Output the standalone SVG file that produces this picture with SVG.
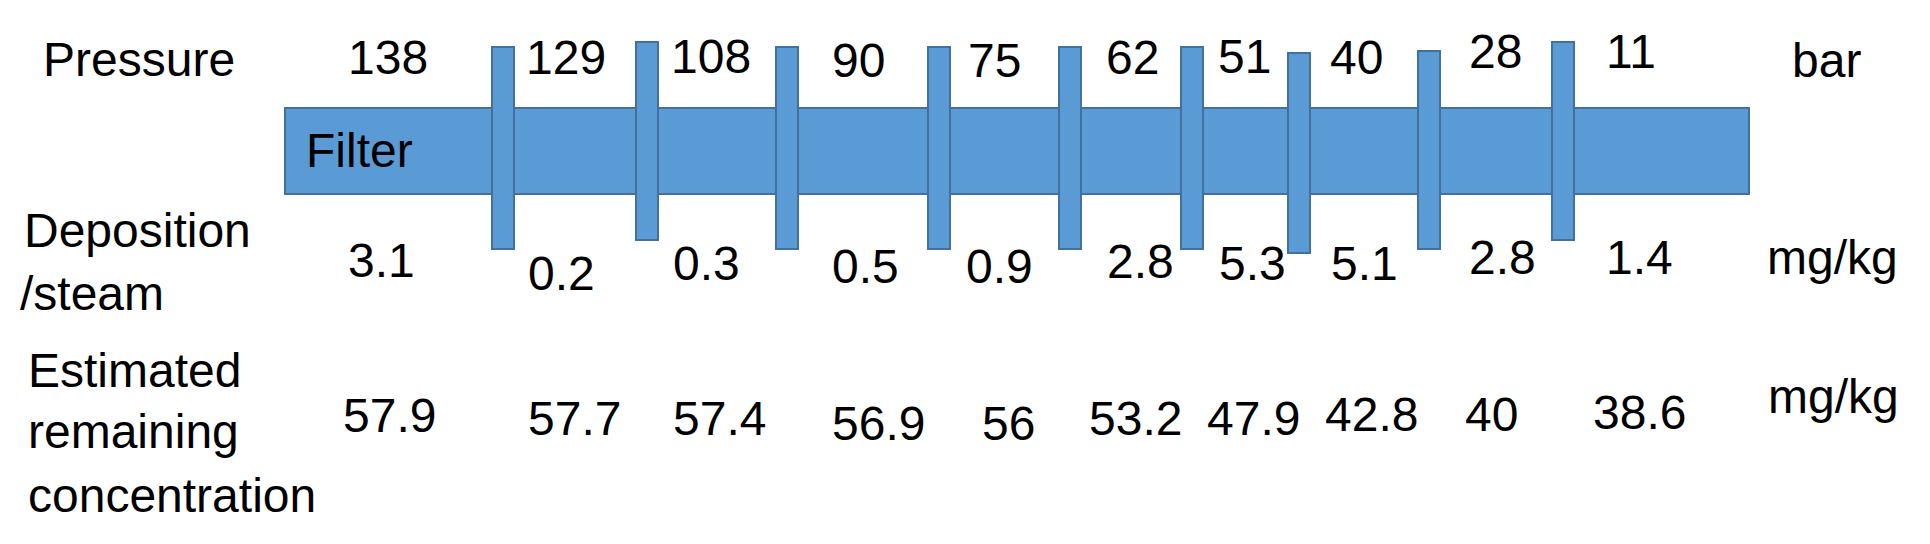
<svg xmlns="http://www.w3.org/2000/svg" width="1930" height="544" viewBox="0 0 1930 544">
<style>
.t{font-family:"Liberation Sans",Arial,sans-serif;font-size:48px;fill:#000}
.b{fill:#5B9BD5;stroke:#41719C;stroke-width:2}
</style>
<rect width="1930" height="544" fill="#fff"/>
<g id="filter">
<rect class="b" x="285" y="108" width="1464" height="86"/>
<text class="t" x="306" y="167">Filter</text>
</g>
<g id="plates">
<rect id="plate1" class="b" x="492" y="47" width="22" height="202"/>
<rect id="plate2" class="b" x="636" y="42" width="22" height="198"/>
<rect id="plate3" class="b" x="776" y="47" width="22" height="202"/>
<rect id="plate4" class="b" x="928" y="47" width="22" height="202"/>
<rect id="plate5" class="b" x="1059" y="47" width="22" height="202"/>
<rect id="plate6" class="b" x="1181" y="47" width="22" height="202"/>
<rect id="plate7" class="b" x="1288" y="53" width="22" height="200"/>
<rect id="plate8" class="b" x="1418" y="51" width="22" height="198"/>
<rect id="plate9" class="b" x="1552" y="42" width="22" height="198"/>
</g>
<g id="connectors"></g>
<g id="pressure">
<text class="t" x="43" y="76">Pressure</text>
<text class="t" x="348" y="74">138</text>
<text class="t" x="526" y="74">129</text>
<text class="t" x="671" y="73">108</text>
<text class="t" x="832" y="77">90</text>
<text class="t" x="968" y="77">75</text>
<text class="t" x="1106" y="74">62</text>
<text class="t" x="1218" y="73">51</text>
<text class="t" x="1330" y="74">40</text>
<text class="t" x="1469" y="68">28</text>
<text class="t" x="1606" y="68">11</text>
<text class="t" x="1792" y="77">bar</text>
</g>
<g id="deposition">
<text class="t" x="24" y="247">Deposition</text>
<text class="t" x="20" y="310">/steam</text>
<text class="t" x="348" y="277">3.1</text>
<text class="t" x="528" y="290">0.2</text>
<text class="t" x="673" y="280">0.3</text>
<text class="t" x="832" y="283">0.5</text>
<text class="t" x="966" y="283">0.9</text>
<text class="t" x="1107" y="278">2.8</text>
<text class="t" x="1219" y="280">5.3</text>
<text class="t" x="1331" y="280">5.1</text>
<text class="t" x="1469" y="274">2.8</text>
<text class="t" x="1606" y="274">1.4</text>
<text class="t" x="1767" y="274">mg/kg</text>
</g>
<g id="concentration">
<text class="t" x="28" y="387">Estimated</text>
<text class="t" x="28" y="448">remaining</text>
<text class="t" x="28" y="512">concentration</text>
<text class="t" x="343" y="432">57.9</text>
<text class="t" x="528" y="435">57.7</text>
<text class="t" x="673" y="435">57.4</text>
<text class="t" x="832" y="440">56.9</text>
<text class="t" x="982" y="440">56</text>
<text class="t" x="1089" y="435">53.2</text>
<text class="t" x="1207" y="435">47.9</text>
<text class="t" x="1325" y="431">42.8</text>
<text class="t" x="1465" y="431">40</text>
<text class="t" x="1593" y="429">38.6</text>
<text class="t" x="1768" y="413">mg/kg</text>
</g>
</svg>
